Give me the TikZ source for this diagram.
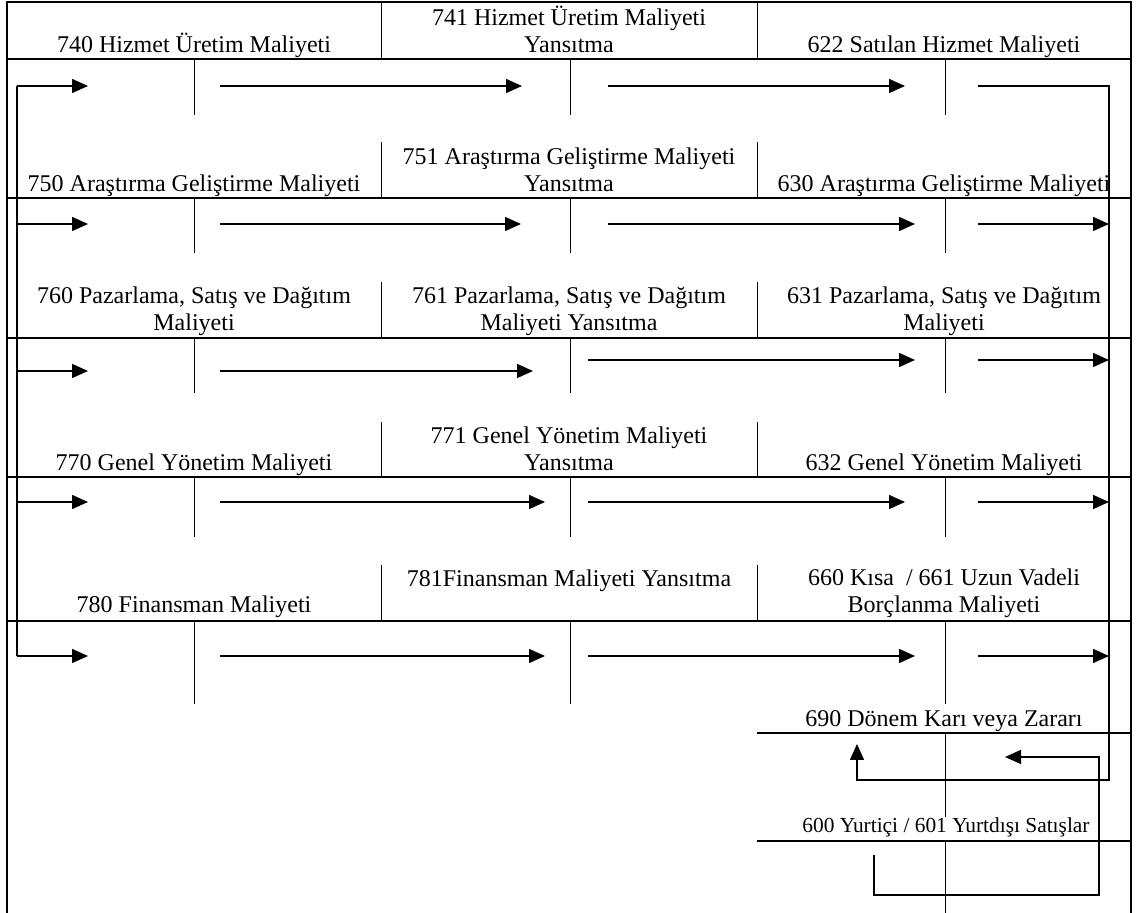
\documentclass[tikz,border=0pt]{standalone}
\usepackage{fontspec}
\setmainfont{Liberation Serif}
\usetikzlibrary{arrows.meta}

\newcommand{\twolines}[2]{\begin{tabular}[b]{@{}c@{}}#1\\#2\end{tabular}}

\tikzset{
  frameline/.style={line width=1pt},
  rule/.style={line width=1pt},
  divider/.style={line width=0.5pt},
  flow/.style={line width=0.75pt},
  flowarrow/.style={flow, -{Triangle[length=8pt,width=7pt]}},
  lbl/.style={anchor=base, inner sep=0pt, font=\fontsize{12}{13.5}\selectfont},
  smalllbl/.style={lbl, font=\fontsize{10.7}{12.5}\selectfont},
}

\begin{document}
\begin{tikzpicture}[x=0.5pt, y=-0.5pt]
  \useasboundingbox (0,0) rectangle (1136,913);

  % outer frame
  \draw[frameline] (7,913) -- (7,2) -- (1131,2) -- (1131,913);

  % horizontal rules under the account headings
  \foreach \y in {59,198,338,477,621}
    \draw[rule] (7,\y) -- (1131,\y);
  \draw[rule] (757,733) -- (1131,733);
  \draw[rule] (757,841) -- (1131,841);

  % column dividers inside the heading rows
  \foreach \top/\bot in {2/59,142/198,282/338,422/477,565/621} {
    \draw[divider] (381,\top) -- (381,\bot);
    \draw[divider] (757,\top) -- (757,\bot);
  }

  % T-account stems
  \foreach \top/\bot in {59/115,198/253,338/393,477/537,621/704} {
    \draw[divider] (194,\top) -- (194,\bot);
    \draw[divider] (570,\top) -- (570,\bot);
    \draw[divider] (945,\top) -- (945,\bot);
  }
  \draw[divider] (945,733) -- (945,817);
  \draw[divider] (945,841) -- (945,913);

  % account headings
  \node[lbl] (h740) at (194,53) {740 Hizmet Üretim Maliyeti};
  \node[lbl] (h741) at (569,53) {\twolines{741 Hizmet Üretim Maliyeti}{Yansıtma}};
  \node[lbl] (h622) at (944,53) {622 Satılan Hizmet Maliyeti};

  \node[lbl] (h750) at (194,192) {750 Araştırma Geliştirme Maliyeti};
  \node[lbl] (h751) at (569,192) {\twolines{751 Araştırma Geliştirme Maliyeti}{Yansıtma}};
  \node[lbl] (h630) at (944,192) {630 Araştırma Geliştirme Maliyeti};

  \node[lbl] (h760) at (194,331) {\twolines{760 Pazarlama, Satış ve Dağıtım}{Maliyeti}};
  \node[lbl] (h761) at (569,331) {\twolines{761 Pazarlama, Satış ve Dağıtım}{Maliyeti Yansıtma}};
  \node[lbl] (h631) at (944,331) {\twolines{631 Pazarlama, Satış ve Dağıtım}{Maliyeti}};

  \node[lbl] (h770) at (194,471) {770 Genel Yönetim Maliyeti};
  \node[lbl] (h771) at (569,471) {\twolines{771 Genel Yönetim Maliyeti}{Yansıtma}};
  \node[lbl] (h632) at (944,471) {632 Genel Yönetim Maliyeti};

  \node[lbl] (h780) at (194,613) {780 Finansman Maliyeti};
  \node[lbl] (h781) at (569,587) {781Finansman Maliyeti Yansıtma};
  \node[lbl] (h660) at (944,613) {\twolines{660 Kısa\ \ / 661 Uzun Vadeli}{Borçlanma Maliyeti}};

  \node[lbl] (h690) at (944,727) {690 Dönem Karı veya Zararı};
  \node[smalllbl] (h600) at (946,833) {600 Yurtiçi / 601 Yurtdışı Satışlar};

  % flow points, one row per account group
  \foreach \r/\y/\me/\ts/\ty/\te in {
      1/86/522/608/86/905,
      2/224/521/608/224/915,
      3/371/533/588/360/915,
      4/502/545/588/502/905,
      5/656/545/588/656/915} {
    \coordinate (fb\r) at (17,\y);
    \coordinate (in\r) at (88,\y);
    \coordinate (ms\r) at (220,\y);
    \coordinate (me\r) at (\me,\y);
    \coordinate (ts\r) at (\ts,\ty);
    \coordinate (te\r) at (\te,\ty);
    \coordinate (os\r) at (978,\ty);
    \coordinate (oe\r) at (1109,\ty);
  }
  \coordinate (closeturn) at (1109,780);
  \coordinate (closeleft) at (857,780);
  \coordinate (closetip)  at (857,744);
  \coordinate (salesstart) at (874,855);
  \coordinate (salesdown)  at (874,895);
  \coordinate (salesright) at (1099,895);
  \coordinate (salesup)    at (1099,757);
  \coordinate (salestip)   at (1005,757);

  % distribution feed on the left
  \draw[flow] (fb1) -- (fb5);
  \foreach \r in {1,...,5} {
    \draw[flowarrow] (fb\r) -- (in\r);
    \draw[flowarrow] (ms\r) -- (me\r);
    \draw[flowarrow] (ts\r) -- (te\r);
  }
  \foreach \r in {2,...,5}
    \draw[flowarrow] (os\r) -- (oe\r);

  % closing into the period result
  \draw[flowarrow] (os1) -- (oe1) -- (closeturn) -- (closeleft) -- (closetip);
  \draw[flowarrow] (salesstart) -- (salesdown) -- (salesright) -- (salesup) -- (salestip);
\end{tikzpicture}
\end{document}
